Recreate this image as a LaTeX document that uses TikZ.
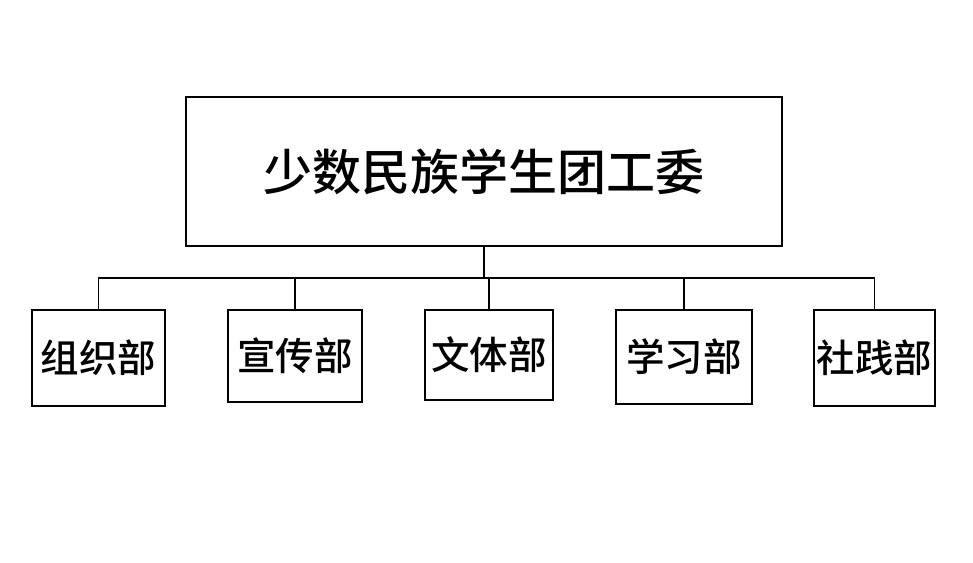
\documentclass[tikz,border=0pt]{standalone}
\usepackage{fontspec}
\newfontfamily\cjk[BoldFont={Noto Sans CJK SC Medium}]{Noto Sans CJK SC}
\begin{document}
\begin{tikzpicture}[x=1pt,y=1pt,
  boxstyle/.style={draw=black, line width=1.6pt, inner sep=0pt, anchor=center, font=\cjk\bfseries\fontsize{38.5}{40}\selectfont},
  link/.style={draw=black, line width=1.4pt}]
\useasboundingbox (0,0) rectangle (973,562);
\node[boxstyle, minimum width=596pt, minimum height=149pt, font=\cjk\bfseries\fontsize{49}{52}\selectfont] (top) at (484,390.5) {少数民族学生团工委};
\node[boxstyle, minimum width=133pt, minimum height=96pt] (c1) at (98.5,204) {组织部};
\node[boxstyle, minimum width=134pt, minimum height=92pt] (c2) at (295,206) {宣传部};
\node[boxstyle, minimum width=128pt, minimum height=90pt] (c3) at (489,207) {文体部};
\node[boxstyle, minimum width=136pt, minimum height=94pt] (c4) at (684,205) {学习部};
\node[boxstyle, minimum width=121pt, minimum height=96pt] (c5) at (874.5,204) {社践部};
\coordinate (j) at (484,284);
\draw[link] (top.south) -- (j);
\draw[link] (c1.north) |- (j);
\draw[link] (c5.north) |- (j);
\draw[link] (c2.north) -- (c2.north |- j);
\draw[link] (c3.north) -- (c3.north |- j);
\draw[link] (c4.north) -- (c4.north |- j);
\end{tikzpicture}
\end{document}
